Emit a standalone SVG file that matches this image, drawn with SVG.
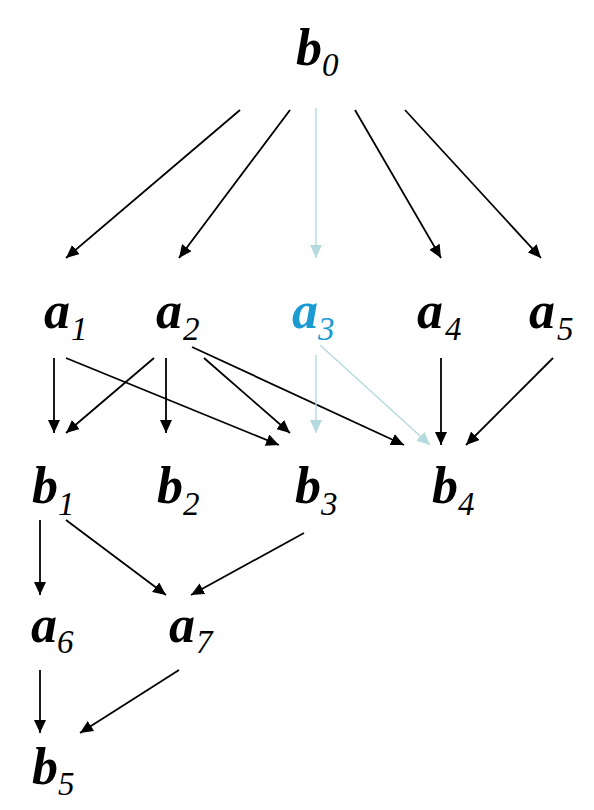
<svg xmlns="http://www.w3.org/2000/svg" width="594" height="810" viewBox="0 0 594 810">
<style>
.m{font-family:"Liberation Serif","Times New Roman",serif;font-style:italic;font-weight:bold;font-size:52px;fill:#000}
.s{font-family:"Liberation Serif","Times New Roman",serif;font-style:italic;font-weight:normal;font-size:33px;fill:#000}
.hl .m,.hl .s{fill:#1b9bd1}
.e{stroke:#000;stroke-width:1.8;fill:none;marker-end:url(#ah)}
.l{stroke:#b4dade;stroke-width:1.4;fill:none;marker-end:url(#al)}
</style>
<defs>
<marker id="ah" viewBox="0 0 13 12" refX="13" refY="6" markerWidth="13" markerHeight="12" markerUnits="userSpaceOnUse" orient="auto"><path d="M0,0 L13,6 L0,12 Z" fill="#000"/></marker>
<marker id="al" viewBox="0 0 13 12" refX="13" refY="6" markerWidth="13" markerHeight="12" markerUnits="userSpaceOnUse" orient="auto"><path d="M0,0 L13,6 L0,12 Z" fill="#b4dade"/></marker>
</defs>
<rect width="594" height="810" fill="#fff"/>
<g id="connectors">
<line class="e" x1="240" y1="110" x2="66" y2="258"/>
<line class="e" x1="290" y1="110" x2="179" y2="258"/>
<line class="l" x1="316" y1="108" x2="316" y2="258"/>
<line class="e" x1="355" y1="110" x2="441" y2="258"/>
<line class="e" x1="405" y1="110" x2="541" y2="258"/>
<line class="e" x1="54" y1="358" x2="54" y2="433"/>
<line class="e" x1="66" y1="358" x2="279" y2="445"/>
<line class="e" x1="154" y1="358" x2="66" y2="433"/>
<line class="e" x1="166" y1="358" x2="166" y2="433"/>
<line class="e" x1="204" y1="358" x2="290" y2="433"/>
<line class="e" x1="192" y1="347" x2="404" y2="445"/>
<line class="l" x1="316" y1="355" x2="316" y2="433"/>
<line class="l" x1="320" y1="345" x2="430" y2="445"/>
<line class="e" x1="441" y1="358" x2="441" y2="445"/>
<line class="e" x1="553" y1="358" x2="466" y2="445"/>
<line class="e" x1="40" y1="520" x2="40" y2="595"/>
<line class="e" x1="66" y1="520" x2="166" y2="595"/>
<line class="e" x1="304" y1="533" x2="191" y2="595"/>
<line class="e" x1="40" y1="670" x2="40" y2="733"/>
<line class="e" x1="179" y1="670" x2="80" y2="733"/>
</g>
<g id="b0"><text class="m" x="296" y="65">b</text><text class="s" x="322" y="76">0</text></g>
<g id="a1"><text class="m" x="44" y="328">a</text><text class="s" x="71" y="340">1</text></g>
<g id="a2"><text class="m" x="156" y="328">a</text><text class="s" x="183" y="340">2</text></g>
<g id="a3" class="hl"><text class="m" x="292" y="328">a</text><text class="s" x="318" y="340">3</text></g>
<g id="a4"><text class="m" x="417" y="328">a</text><text class="s" x="445" y="340">4</text></g>
<g id="a5"><text class="m" x="529" y="328">a</text><text class="s" x="557" y="340">5</text></g>
<g id="b1"><text class="m" x="32" y="503">b</text><text class="s" x="58" y="515">1</text></g>
<g id="b2"><text class="m" x="157" y="503">b</text><text class="s" x="183" y="515">2</text></g>
<g id="b3"><text class="m" x="295" y="503">b</text><text class="s" x="321" y="515">3</text></g>
<g id="b4"><text class="m" x="432" y="503">b</text><text class="s" x="458" y="515">4</text></g>
<g id="a6"><text class="m" x="31" y="642">a</text><text class="s" x="57" y="653">6</text></g>
<g id="a7"><text class="m" x="169" y="642">a</text><text class="s" x="196" y="653">7</text></g>
<g id="b5"><text class="m" x="32" y="784">b</text><text class="s" x="58" y="795">5</text></g>
</svg>
